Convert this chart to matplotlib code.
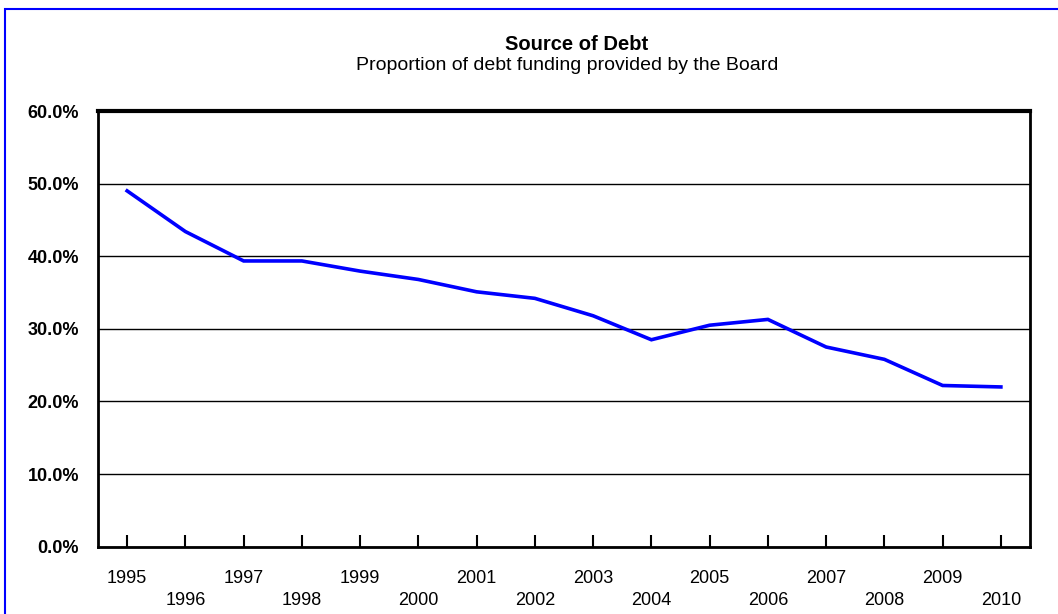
import matplotlib
matplotlib.use("Agg")
import matplotlib.pyplot as plt
from matplotlib.patches import Rectangle

years = [1995, 1996, 1997, 1998, 1999, 2000, 2001, 2002,
         2003, 2004, 2005, 2006, 2007, 2008, 2009, 2010]
board_share = [49.0, 43.4, 39.35, 39.35, 37.95, 36.8, 35.1, 34.2,
               31.8, 28.5, 30.5, 31.3, 27.5, 25.8, 22.2, 22.0]
y_ticks = [0, 10, 20, 30, 40, 50, 60]

plt.rcParams['font.family'] = ['Liberation Sans', 'DejaVu Sans']

fig = plt.figure(figsize=(10.58, 6.14), dpi=100)
ax = fig.add_axes([98 / 1058, 1 - 546.7 / 614, 932 / 1058, 435.7 / 614])

x = list(range(len(years)))
ax.plot(x, board_share, color='#0000ff', lw=2.6, solid_joinstyle='miter', zorder=3)

ax.set_xlim(-0.5, len(years) - 0.5)
ax.set_ylim(0, 60)
ax.set_yticks(y_ticks)
ax.set_yticklabels([f"{v:.1f}%" for v in y_ticks], fontweight='bold', fontsize=13)
ax.yaxis.grid(True, color='black', lw=1.0)
ax.set_axisbelow(True)
ax.tick_params(axis='y', length=0, pad=13.7)

ax.set_xticks(x)
labels = []
for i, yr in enumerate(years):
    labels.append(str(yr) if i % 2 == 0 else "\n" + str(yr))
ax.set_xticklabels(labels, fontsize=13, linespacing=1.4)
ax.tick_params(axis='x', direction='in', length=9, width=1.5, pad=16.5)

for side in ['left', 'right', 'bottom']:
    ax.spines[side].set_linewidth(2)
ax.spines['top'].set_linewidth(3)

fig.text(577 / 1058, 1 - 44.5 / 614, "Source of Debt", ha='center', va='center',
         fontsize=14.5, fontweight='bold')
fig.text(567 / 1058, 1 - 66 / 614, "Proportion of debt funding provided by the Board",
         ha='center', va='center', fontsize=14)

fig.add_artist(Rectangle((5 / 1058, -0.05), 1.1, 0.05 + 1 - 9 / 614,
                         transform=fig.transFigure, fill=False,
                         edgecolor='#0000ff', lw=1.5))

fig.savefig("out.png", dpi=100)
